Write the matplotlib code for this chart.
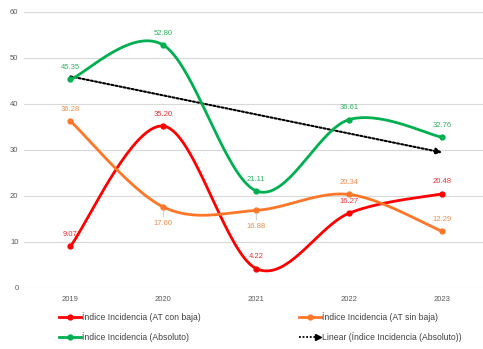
import numpy as np
import matplotlib
matplotlib.use("Agg")
import matplotlib.pyplot as plt
from matplotlib.lines import Line2D
from matplotlib.legend_handler import HandlerBase

# ===============================
# DATA
# ===============================
years = ["2019", "2020", "2021", "2022", "2023"]
con_baja = [9.07, 35.20, 4.22, 16.27, 20.48]
sin_baja = [36.28, 17.60, 16.88, 20.34, 12.29]
absoluto = [45.35, 52.80, 21.11, 36.61, 32.76]

# label position: +1 above, -1 below
con_baja_pos = [1, 1, 1, 1, 1]
sin_baja_pos = [1, -1, -1, 1, 1]
absoluto_pos = [1, 1, 1, 1, 1]

RED = "#ff0000"
ORANGE = "#ff7628"
GREEN = "#00b050"

plt.rcParams['font.family'] = ['Liberation Sans', 'DejaVu Sans']


def smooth(y, n=40):
    # Catmull-Rom style smoothing (like Excel "smoothed line")
    x = np.arange(len(y), dtype=float)
    pts = np.column_stack([x, np.asarray(y, dtype=float)])
    pts = np.vstack([pts[0], pts, pts[-1]])
    out = []
    for i in range(1, len(pts) - 2):
        p0, p1, p2, p3 = pts[i - 1], pts[i], pts[i + 1], pts[i + 2]
        c1 = p1 + (p2 - p0) / 6
        c2 = p2 - (p3 - p1) / 6
        t = np.linspace(0, 1, n)[:, None]
        seg = ((1 - t) ** 3) * p1 + 3 * ((1 - t) ** 2) * t * c1 + 3 * (1 - t) * t ** 2 * c2 + t ** 3 * p2
        out.append(seg if i == 1 else seg[1:])
    s = np.vstack(out)
    return s[:, 0], s[:, 1]


fig = plt.figure(figsize=(4.83, 3.49), dpi=100)
ax = fig.add_axes([24 / 483, 61 / 349, 459 / 483, 276 / 349])

xs = np.arange(len(years))
series = [
    (con_baja, RED, "#e8303a", con_baja_pos, "Índice Incidencia (AT con baja)"),
    (sin_baja, ORANGE, "#f08a4b", sin_baja_pos, "Índice Incidencia (AT sin baja)"),
    (absoluto, GREEN, "#2fb260", absoluto_pos, "Índice Incidencia (Absoluto)"),
]

handles = {}
for vals, col, lcol, pos, name in series:
    sx, sy = smooth(vals)
    ax.plot(sx, sy, color=col, lw=2.0, solid_capstyle="round", zorder=3)
    ax.plot(xs, vals, "o", color=col, ms=3.5, zorder=4)
    for xi, v, p in zip(xs, vals, pos):
        if p > 0:
            ax.annotate(f"{v:.2f}", (xi, v), xytext=(0, 6), textcoords="offset points",
                        ha="center", va="bottom", fontsize=5.5, color=lcol, zorder=5)
        else:
            ax.annotate(f"{v:.2f}", (xi, v), xytext=(0, -9), textcoords="offset points",
                        ha="center", va="top", fontsize=5.5, color=lcol, zorder=5,
                        arrowprops=dict(arrowstyle="-", color="#bfbfbf", lw=0.6,
                                        shrinkA=0, shrinkB=2))
    handles[name] = Line2D([], [], color=col, lw=2.0, marker="o", ms=3.5)

# linear trend of the absolute index
k, b = np.polyfit(xs, absoluto, 1)
tx = np.array([xs[0], xs[-1]])
ax.annotate("", xy=(tx[1], k * tx[1] + b), xytext=(tx[0], k * tx[0] + b),
            arrowprops=dict(arrowstyle="-|>", linestyle=(0, (1, 1)), color="black",
                            lw=1.5, mutation_scale=9, shrinkA=0, shrinkB=0), zorder=2)

ax.set_xlim(-0.5, 4.44)
ax.set_ylim(0, 60)
ax.set_yticks(range(0, 61, 10))
ax.set_xticks(xs)
ax.set_xticklabels(years)
ax.tick_params(axis="both", length=0, labelsize=5.5, labelcolor="#595959")
ax.tick_params(axis="x", pad=6)
ax.tick_params(axis="y", pad=4)
ax.grid(axis="y", color="#d9d9d9", lw=0.8)
ax.set_axisbelow(True)
for s in ax.spines.values():
    s.set_visible(False)


class ArrowHandler(HandlerBase):
    def create_artists(self, legend, orig_handle, xdescent, ydescent, width, height, fontsize, trans):
        y = height / 2 - ydescent
        ln = Line2D([-xdescent, width - xdescent - 3], [y, y], color="black", lw=1.3,
                    linestyle=(0, (1, 1)))
        mk = Line2D([width - xdescent - 2], [y], marker=">", color="black", ms=4.5, lw=0)
        ln.set_transform(trans)
        mk.set_transform(trans)
        return [ln, mk]


trend_handle = Line2D([], [])
leg_kw = dict(frameon=False, fontsize=6.2, labelcolor="#404040", handlelength=2.5,
              handletextpad=0.2, labelspacing=1.2, borderpad=0, borderaxespad=0)
leg1 = fig.legend([handles["Índice Incidencia (AT con baja)"], handles["Índice Incidencia (Absoluto)"]],
                  ["Índice Incidencia (AT con baja)", "Índice Incidencia (Absoluto)"],
                  loc="upper left", bbox_to_anchor=(59 / 483, 1 - 312 / 349), **leg_kw)
leg2 = fig.legend([handles["Índice Incidencia (AT sin baja)"], trend_handle],
                  ["Índice Incidencia (AT sin baja)", "Linear (Índice Incidencia (Absoluto))"],
                  loc="upper left", bbox_to_anchor=(299 / 483, 1 - 312 / 349),
                  handler_map={trend_handle: ArrowHandler()}, **leg_kw)

fig.savefig("out.png", dpi=100, facecolor="white")
